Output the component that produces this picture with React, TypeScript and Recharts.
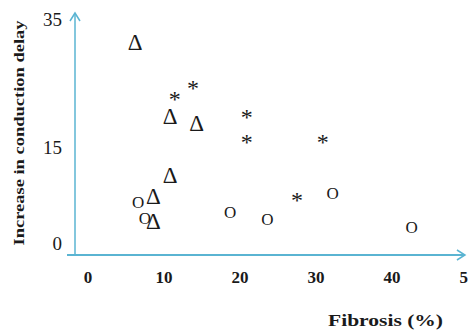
import React from 'react';
import { ScatterChart, Scatter, XAxis, YAxis, ReferenceLine, ReferenceDot } from 'recharts';

const triangleX = [6.2, 10.8, 14.3, 10.8, 8.6, 8.6];
const triangleY = [31.3, 19.7, 18.7, 10.6, 7.2, 3.3];
const asteriskX = [11.4, 13.8, 20.9, 20.9, 30.9, 27.5];
const asteriskY = [23.4, 25.0, 20.5, 16.6, 16.6, 7.5];
const circleX = [6.6, 7.5, 18.7, 23.6, 32.2, 42.6];
const circleY = [6.4, 3.9, 4.8, 3.6, 7.7, 2.5];
const xTicks = [0, 10, 20, 30, 40, 50];
const yTicks = [0, 15, 35];
const xLabel = 'Fibrosis (%)';
const yLabel = 'Increase in conduction delay';

const X_MIN = -1.71;
const X_MAX = 50;
const Y_MIN = -1.875;
const Y_MAX = 35.94;
const AXIS = '#5ab4d2';
const FONT = '"Liberation Serif", "Times New Roman", serif';

const zip = (xs: number[], ys: number[]) => xs.map((x, i) => ({ x, y: ys[i] }));
const triangles = zip(triangleX, triangleY);
const asterisks = zip(asteriskX, asteriskY);
const circles = zip(circleX, circleY);

const glyph = (ch: string, size: number, dy: string) => (p: any) => (
  <text
    x={p.cx}
    y={p.cy}
    dy={dy}
    textAnchor="middle"
    dominantBaseline="central"
    fontFamily={FONT}
    fontSize={size}
    fill="#1a1a1a"
  >
    {ch}
  </text>
);

const XTick = (p: any) => (
  <text
    x={p.x}
    y={p.y + 22}
    textAnchor="middle"
    dominantBaseline="central"
    fontFamily={FONT}
    fontWeight="bold"
    fontSize={17}
    fill="#1a1a1a"
  >
    {p.payload.value}
  </text>
);

const YTick = (p: any) => (
  <text
    x={p.x}
    y={p.y}
    textAnchor="end"
    dominantBaseline="central"
    fontFamily={FONT}
    fontSize={19}
    fill="#1a1a1a"
  >
    {p.payload.value}
  </text>
);

const upArrow = (p: any) => (
  <path d={`M${p.cx - 5},${p.cy + 8} L${p.cx},${p.cy} L${p.cx + 5},${p.cy + 8}`} stroke={AXIS} strokeWidth={1.5} fill="none" />
);
const rightArrow = (p: any) => (
  <path d={`M${p.cx - 8},${p.cy - 5} L${p.cx},${p.cy} L${p.cx - 8},${p.cy + 5}`} stroke={AXIS} strokeWidth={1.5} fill="none" />
);

export default function App() {
  return (
    <div style={{ position: 'absolute', left: 0, top: 0, width: 468, height: 330, background: '#fff', overflow: 'hidden' }}>
      <ScatterChart width={476} height={330} margin={{ top: 13, right: 8, bottom: 0, left: 0 }}>
        <XAxis
          type="number"
          dataKey="x"
          domain={[X_MIN, X_MAX]}
          ticks={xTicks}
          allowDataOverflow
          axisLine={false}
          tickLine={false}
          tickSize={0}
          tickMargin={0}
          height={75}
          tick={<XTick />}
        />
        <YAxis
          type="number"
          dataKey="y"
          domain={[Y_MIN, Y_MAX]}
          ticks={yTicks}
          allowDataOverflow
          axisLine={false}
          tickLine={false}
          tickSize={0}
          tickMargin={13}
          width={75}
          tick={<YTick />}
        />
        <ReferenceLine
          segment={[{ x: -2.76, y: Y_MIN }, { x: 49.6, y: Y_MIN }]}
          stroke={AXIS}
          strokeWidth={1.8}
          ifOverflow="visible"
        />
        <ReferenceLine
          segment={[{ x: X_MIN, y: Y_MIN }, { x: X_MIN, y: Y_MAX }]}
          stroke={AXIS}
          strokeWidth={1.5}
          ifOverflow="visible"
        />
        <ReferenceDot x={X_MIN} y={Y_MAX} r={0} ifOverflow="visible" shape={upArrow} />
        <ReferenceDot x={49.6} y={Y_MIN} r={0} ifOverflow="visible" shape={rightArrow} />
        <Scatter data={triangles} isAnimationActive={false} shape={glyph('\u0394', 23, '0')} />
        <Scatter data={asterisks} isAnimationActive={false} shape={glyph('*', 24, '0.22em')} />
        <Scatter data={circles} isAnimationActive={false} shape={glyph('O', 17, '0')} />
        <text x={443} y={320} textAnchor="end" dominantBaseline="central" fontFamily={FONT} fontWeight="bold" fontSize={17} textLength={115} lengthAdjust="spacingAndGlyphs" fill="#1a1a1a">
          {xLabel}
        </text>
        <text
          x={19}
          y={133}
          transform="rotate(-90 19 133)"
          textAnchor="middle"
          dominantBaseline="central"
          fontFamily={FONT}
          fontWeight="bold"
          fontSize={15}
          textLength={225}
          lengthAdjust="spacingAndGlyphs"
          fill="#1a1a1a"
        >
          {yLabel}
        </text>
      </ScatterChart>
    </div>
  );
}
